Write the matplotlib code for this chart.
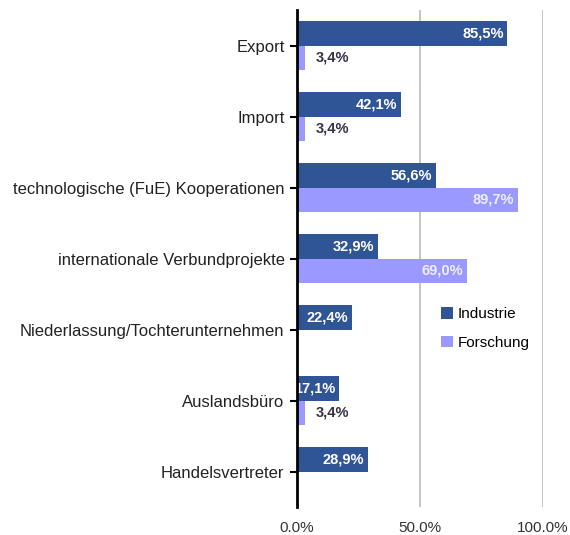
import numpy as np
import matplotlib.pyplot as plt
from matplotlib.ticker import FuncFormatter

# --- data ---
categories = ["Export", "Import", "technologische (FuE) Kooperationen",
              "internationale Verbundprojekte", "Niederlassung/Tochterunternehmen",
              "Auslandsbüro", "Handelsvertreter"]
industrie = [85.5, 42.1, 56.6, 32.9, 22.4, 17.1, 28.9]
forschung = [3.4, 3.4, 89.7, 69.0, 0.0, 3.4, 0.0]
series_names = ["Industrie", "Forschung"]

C_IND = "#2F5597"
C_FOR = "#9999FF"

plt.rcParams['font.family'] = ['Liberation Sans', 'DejaVu Sans']

fig = plt.figure(figsize=(5.7, 5.35), dpi=100)
ax = fig.add_axes([297 / 570, 28 / 535, 246 / 570, 497 / 535])

y = np.arange(len(categories))
h = 0.34
ax.barh(y - h / 2, industrie, height=h, color=C_IND, label=series_names[0], zorder=3)
ax.barh(y + h / 2, forschung, height=h, color=C_FOR, label=series_names[1], zorder=3)

def fmt(v):
    return f"{v:.1f}%".replace(".", ",")

for yi, v in zip(y, industrie):
    ax.text(v - 1.5, yi - h / 2, fmt(v), ha="right", va="center", color="white",
            fontsize=10.5, fontweight="bold", zorder=4)
for yi, v in zip(y, forschung):
    if v <= 0:
        continue
    if v > 20:
        ax.text(v - 1.5, yi + h / 2, fmt(v), ha="right", va="center", color="#EEEEFF",
                fontsize=10.5, fontweight="bold", zorder=4)
    else:
        ax.text(v + 4.0, yi + h / 2, fmt(v), ha="left", va="center", color="#333344",
                fontsize=10.5, fontweight="bold", zorder=4)

ax.set_xlim(0, 100)
ax.set_ylim(len(categories) - 0.5, -0.5)
ax.set_xticks([0, 50, 100])
ax.xaxis.set_major_formatter(FuncFormatter(lambda v, p: f"{v:.1f}%"))
ax.set_yticks(y)
ax.set_yticklabels(categories, fontsize=12, color="#222222")
ax.tick_params(axis="x", length=0, pad=10, labelsize=11, labelcolor="#333333")
ax.tick_params(axis="y", length=5, width=1.5, direction="out", pad=4)

ax.grid(axis="x", color="#BBBBBB", linewidth=1.2, zorder=0)
for s in ["top", "right", "bottom"]:
    ax.spines[s].set_visible(False)
ax.spines["left"].set_linewidth(2)
ax.spines["left"].set_zorder(5)

ax.legend(loc="upper left", bbox_to_anchor=(0.53, 0.43), frameon=False,
          fontsize=11, handlelength=0.8, handleheight=0.8, handletextpad=0.3,
          labelspacing=0.95)

fig.savefig("out.png", dpi=100)
